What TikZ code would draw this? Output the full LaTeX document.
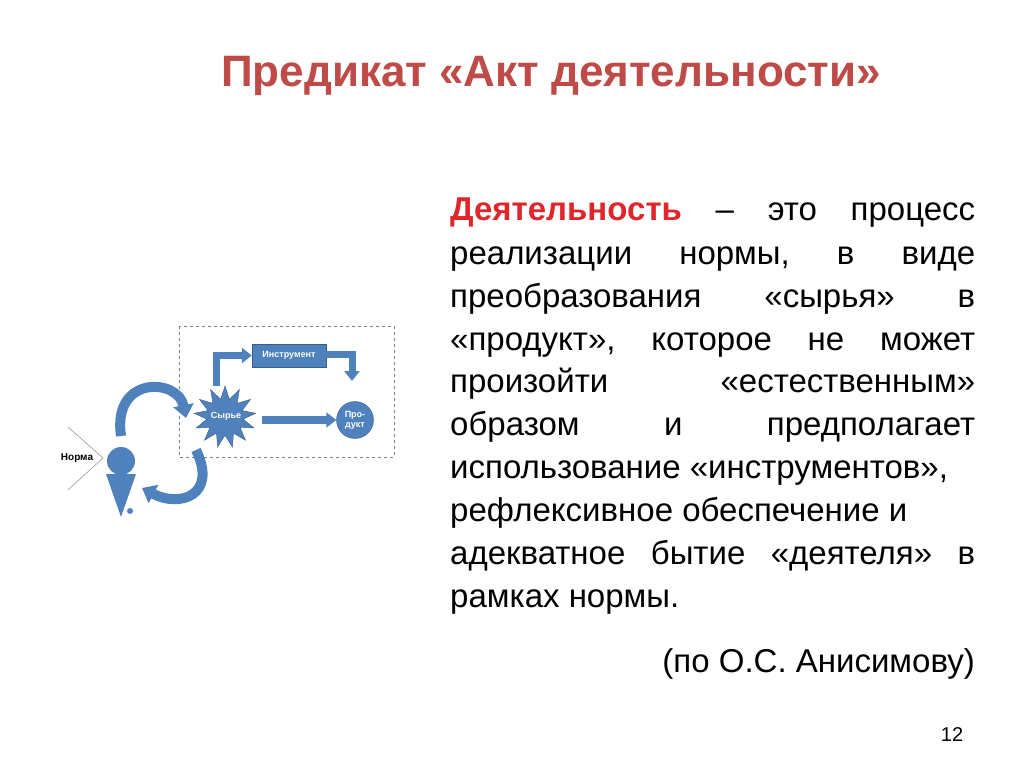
\documentclass[tikz,border=0pt]{standalone}
\usepackage{fontspec}
\setmainfont{Liberation Sans}
\usetikzlibrary{shapes.geometric,arrows.meta}
\definecolor{bl}{HTML}{4F81BD}
\definecolor{bld}{HTML}{385D8A}
\definecolor{ttl}{HTML}{BE4B48}
\definecolor{rd}{HTML}{E0252B}
\tikzset{
  txt/.style={anchor=base west,text width=525pt,align=justify,inner sep=0pt,font=\fontsize{33}{38}\selectfont},
  fat/.style={draw=bl,line width=10pt,-{Triangle[width=20pt,length=13pt]}},
  bendar/.style={draw=bl,line width=7pt,-{Triangle[width=15pt,length=10pt]}},
  wl/.style={text=white,font=\bfseries\fontsize{9}{10}\selectfont}
}
\begin{document}
\begin{tikzpicture}[x=1pt,y=-1pt]
\useasboundingbox (0,0) rectangle (1024,767);
\node[text=ttl,font=\bfseries\fontsize{44}{50}\selectfont] (title) at (551,76) {Предикат «Акт деятельности»};
\node[txt] (l1) at (450,221) {\textcolor{rd}{\textbf{Деятельность}}\hfill–\hfill это\hfill процесс};
\node[txt] (l2) at (450,264) {реализации\hfill нормы,\hfill в\hfill виде};
\node[txt] (l3) at (450,307) {преобразования\hfill «сырья»\hfill в};
\node[txt] (l4) at (450,350) {«продукт»,\hfill которое\hfill не\hfill может};
\node[txt] (l5) at (450,392) {произойти\hfill «естественным»};
\node[txt] (l6) at (450,435) {образом\hfill и\hfill предполагает};
\node[txt] (l7) at (450,478) {использование «инструментов»,};
\node[txt] (l8) at (450,521) {рефлексивное обеспечение и};
\node[txt] (l9) at (450,564) {адекватное\hfill бытие\hfill «деятеля»\hfill в};
\node[txt] (l10) at (450,607) {рамках нормы.};
\node[anchor=base east,inner sep=0pt,font=\fontsize{33}{38}\selectfont] (cite) at (975,672) {(по О.С. Анисимову)};
\node[font=\fontsize{20}{22}\selectfont] (pg) at (952,735) {12};
% diagram
\draw[gray,dashed,line width=0.8pt] (179,326) rectangle (394,457);
\node[draw=bld,fill=bl,minimum width=74pt,minimum height=23pt,inner sep=0pt,wl] (ins) at (289,355.5) {Инструмент};
\node[star,star points=13,star point ratio=1.7,draw=bld,fill=bl,minimum size=62pt,inner sep=0pt] (raw) at (225,417) {};
\node[wl] (rawt) at (226,416) {Сырье};
\node[circle,draw=bld,fill=bl,minimum size=37pt,inner sep=0pt,wl,align=center] (prod) at (355,420) {Про-\\дукт};
\coordinate (b1) at (216,386);
\coordinate (b2) at (326,354);
\coordinate (b3) at (352,381);
\coordinate (s1) at (262,420);
\draw[bendar] (b1) |- (ins.west);
\draw[bendar] (b2) -| (b3);
\draw[bendar,line width=8pt] (s1) -- (prod.west);
% person
\node[circle,fill=bl,minimum size=28pt,inner sep=0pt] (head) at (121,461) {};
\fill[bl] (106,474) -- (136,474) -- (121,517) -- cycle;
\node[circle,fill=bl,minimum size=6pt,inner sep=0pt] (dot) at (130,511) {};
\node[font=\bfseries\fontsize{10}{11}\selectfont] (norm) at (77,458) {Норма};
\draw[gray!80,line width=0.6pt] (68,427) -- (103,458) -- (68,490);
\coordinate (a1) at (121,436);
\coordinate (a2) at (186,418);
\coordinate (c1) at (196,450);
\coordinate (c2) at (142,488);
\draw[fat] (a1) .. controls (112,375) and (178,378) .. (a2);
\draw[fat] (c1) .. controls (218,495) and (180,508) .. (c2);
\end{tikzpicture}
\end{document}
